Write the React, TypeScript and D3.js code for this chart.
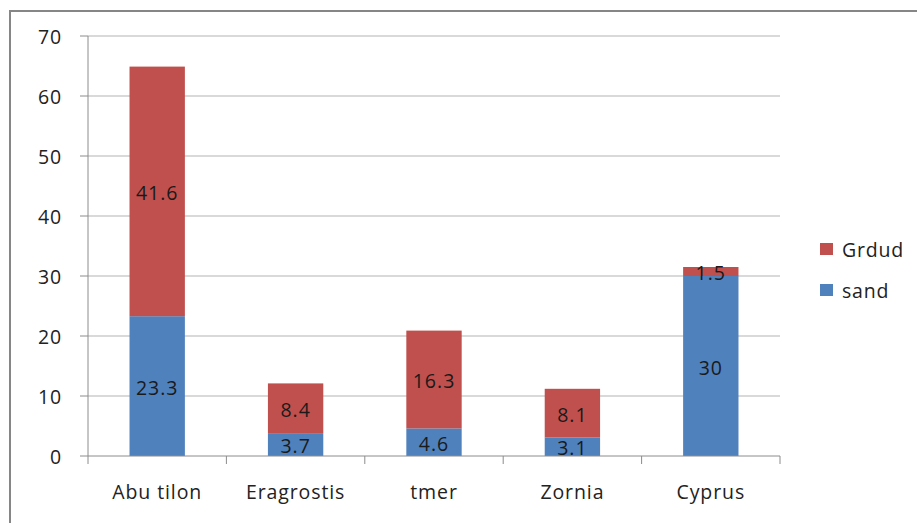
import React from "react";
import * as d3 from "d3";

const categories = ["Abu tilon", "Eragrostis", "tmer", "Zornia", "Cyprus"];
const sand = [23.3, 3.7, 4.6, 3.1, 30];
const grdud = [41.6, 8.4, 16.3, 8.1, 1.5];
const yTicks = [0, 10, 20, 30, 40, 50, 60, 70];
const seriesNames = ["Grdud", "sand"];

const RED = "#C0504D";
const BLUE = "#4F81BD";
const FONT = "'Open Sans', sans-serif";
const FS = 19.5;

export default function App() {
  const W = 917, H = 523;
  const left = 88, right = 780, top = 36, bottom = 456;
  const x = d3.scaleBand<string>().domain(categories).range([left, right]).paddingInner(0.6).paddingOuter(0.3);
  const xb = d3.scaleBand<string>().domain(categories).range([left, right]);
  const y = d3.scaleLinear().domain([0, 70]).range([bottom, top]);

  const stack = d3.stack<any>().keys(["sand", "grdud"])(
    categories.map((c, i) => ({ cat: c, sand: sand[i], grdud: grdud[i] }))
  );
  const colors = [BLUE, RED];

  return (
    <svg width={W} height={H} style={{ position: "absolute", left: 0, top: 0, background: "#fff" }}>
      <rect x={10} y={11} width={W + 20} height={H + 20} fill="#fff" stroke="#868686" strokeWidth={2} />
      {yTicks.map((t) => (
        <g key={t}>
          {t > 0 && <line x1={left} x2={right} y1={y(t)} y2={y(t)} stroke="#b3b3b3" strokeWidth={1} />}
          <line x1={left - 8} x2={left} y1={y(t)} y2={y(t)} stroke="#8c8c8c" strokeWidth={1} />
          <text x={62} y={y(t)} textAnchor="end" dominantBaseline="central" fontFamily={FONT} fontSize={FS} letterSpacing={0.8} fill="#222">{t}</text>
        </g>
      ))}
      {stack.map((s, si) =>
        s.map((d, i) => (
          <rect key={si + "-" + i} x={x(categories[i])} width={x.bandwidth()} y={y(d[1])} height={y(d[0]) - y(d[1])} fill={colors[si]} />
        ))
      )}
      {stack.map((s, si) =>
        s.map((d, i) => (
          <text key={"l" + si + "-" + i} x={x(categories[i])! + x.bandwidth() / 2} y={(y(d[0]) + y(d[1])) / 2 + 1} textAnchor="middle" dominantBaseline="central" fontFamily={FONT} fontSize={FS} letterSpacing={1} fill="#1a1a1a">
            {si === 0 ? sand[i] : grdud[i]}
          </text>
        ))
      )}
      <line x1={left} x2={left} y1={top} y2={bottom} stroke="#8c8c8c" strokeWidth={1} />
      <line x1={left} x2={right} y1={bottom} y2={bottom} stroke="#8c8c8c" strokeWidth={1} />
      {categories.concat([""]).map((c, i) => {
        const xx = i < categories.length ? xb(c)! : right;
        return <line key={"t" + i} x1={xx} x2={xx} y1={bottom} y2={bottom + 8} stroke="#8c8c8c" strokeWidth={1} />;
      })}
      {categories.map((c) => (
        <text key={c} x={xb(c)! + xb.bandwidth() / 2} y={491} textAnchor="middle" dominantBaseline="central" fontFamily={FONT} fontSize={FS} letterSpacing={0.9} fill="#222">{c}</text>
      ))}
      {seriesNames.map((n, i) => (
        <g key={n}>
          <rect x={820} y={243 + i * 41} width={13} height={12} fill={i === 0 ? RED : BLUE} />
          <text x={842} y={249 + i * 41} dominantBaseline="central" fontFamily={FONT} fontSize={FS} letterSpacing={0.8} fill="#222">{n}</text>
        </g>
      ))}
    </svg>
  );
}
